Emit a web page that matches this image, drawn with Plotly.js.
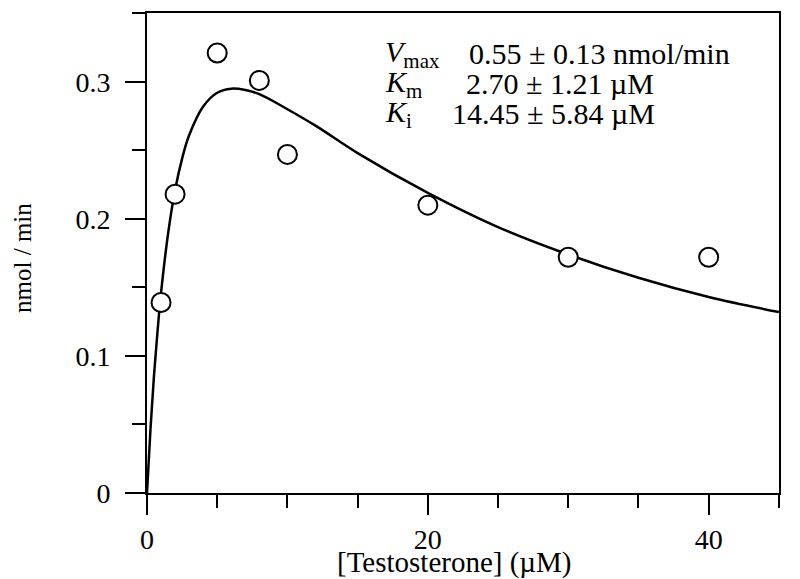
<!DOCTYPE html>
<html>
<head>
<meta charset="utf-8">
<script src="https://cdn.plot.ly/plotly-3.0.1.min.js"></script>
<style>html,body{margin:0;padding:0;background:#fff}#chart{width:800px;height:579px}</style>
</head>
<body>
<div id="chart"></div>
<script>
// Measured data points (testosterone concentration, µM ; rate, nmol/min)
var pointX = [1, 2, 5, 8, 10, 20, 30, 40];
var pointY = [0.139, 0.218, 0.321, 0.301, 0.247, 0.210, 0.172, 0.172];

// Fitted curve, values
var curveX = [0, 0.25, 0.5, 0.75, 1, 1.5, 2, 2.5, 3, 4, 5, 6, 7, 8, 10, 12, 15, 20, 25, 30, 35, 40, 45];
var curveY = [0, 0.047, 0.086, 0.118, 0.146, 0.189, 0.221, 0.244, 0.261, 0.282, 0.292, 0.295, 0.294, 0.291, 0.280, 0.268, 0.248, 0.219, 0.194, 0.174, 0.157, 0.143, 0.132];

// Fit parameter text
var paramLabels = ['<i>V</i><sub>max</sub>', '<i>K</i><sub>m</sub>', '<i>K</i><sub>i</sub>'];
var paramValues = ['0.55 \u00b1 0.13 nmol/min', '2.70 \u00b1 1.21 \u00b5M', '14.45 \u00b1 5.84 \u00b5M'];
var paramRowY = [0.3205, 0.2986, 0.2767];
var paramValueX = [22.8, 22.6, 21.6];
var paramLabelX = 16.8;

// Axis ticks and titles
var xTickVals = [0, 20, 40];
var xTickText = ['0', '20', '40'];
var yTickVals = [0, 0.1, 0.2, 0.3];
var yTickText = ['0', '0.1', '0.2', '0.3'];
var xTitle = '[Testosterone] (\u00b5M)';
var yTitle = 'nmol / min';

var serif = 'Liberation Serif, Times New Roman, serif';

var traces = [
  {
    x: curveX, y: curveY, type: 'scatter', mode: 'lines',
    line: {color: '#000', width: 2.5, shape: 'spline', smoothing: 1},
    hoverinfo: 'skip', showlegend: false
  },
  {
    x: pointX, y: pointY, type: 'scatter', mode: 'markers',
    marker: {symbol: 'circle', size: 19, color: '#fff', line: {color: '#000', width: 2}},
    showlegend: false
  }
];

var annotations = [];
for (var i = 0; i < paramLabels.length; i++) {
  annotations.push({
    x: paramLabelX, y: paramRowY[i], xref: 'x', yref: 'y', text: paramLabels[i],
    showarrow: false, xanchor: 'left', yanchor: 'middle',
    font: {family: serif, size: 30, color: '#000'}
  });
  annotations.push({
    x: paramValueX[i], y: paramRowY[i], xref: 'x', yref: 'y', text: paramValues[i],
    showarrow: false, xanchor: 'left', yanchor: 'middle',
    font: {family: serif, size: 30, color: '#000'}
  });
}
annotations.push({
  x: 0.487, y: -0.106, xref: 'paper', yref: 'paper', text: xTitle,
  showarrow: false, xanchor: 'center', yanchor: 'top',
  font: {family: serif, size: 29, color: '#000'}
});
annotations.push({
  x: -0.196, y: 0.49, xref: 'paper', yref: 'paper', text: yTitle, textangle: -90,
  showarrow: false, xanchor: 'center', yanchor: 'middle',
  font: {family: serif, size: 25, color: '#000'}
});

var layout = {
  width: 800, height: 579,
  margin: {l: 147, r: 21, t: 13, b: 86},
  paper_bgcolor: '#fff', plot_bgcolor: '#fff',
  font: {family: serif, color: '#000'},
  xaxis: {
    range: [0, 45.01], showgrid: false, zeroline: false,
    showline: true, linecolor: '#000', linewidth: 2, mirror: true,
    ticks: 'outside', ticklen: 20, tickwidth: 2, tickcolor: '#000',
    tickvals: xTickVals, ticktext: xTickText,
    tickfont: {family: serif, size: 28, color: '#000'},
    minor: {dtick: 5, tick0: 0, ticks: 'outside', ticklen: 13, tickwidth: 2, tickcolor: '#000', showgrid: false}
  },
  yaxis: {
    range: [0, 0.3502], showgrid: false, zeroline: false,
    showline: true, linecolor: '#000', linewidth: 2, mirror: true,
    ticks: 'outside', ticklen: 20, tickwidth: 2, tickcolor: '#000',
    tickvals: yTickVals, ticktext: yTickText, ticklabelstandoff: 9,
    tickfont: {family: serif, size: 28, color: '#000'},
    minor: {dtick: 0.05, tick0: 0, ticks: 'outside', ticklen: 13, tickwidth: 2, tickcolor: '#000', showgrid: false}
  },
  annotations: annotations
};

Plotly.newPlot('chart', traces, layout, {displayModeBar: false, staticPlot: true});
</script>
</body>
</html>
